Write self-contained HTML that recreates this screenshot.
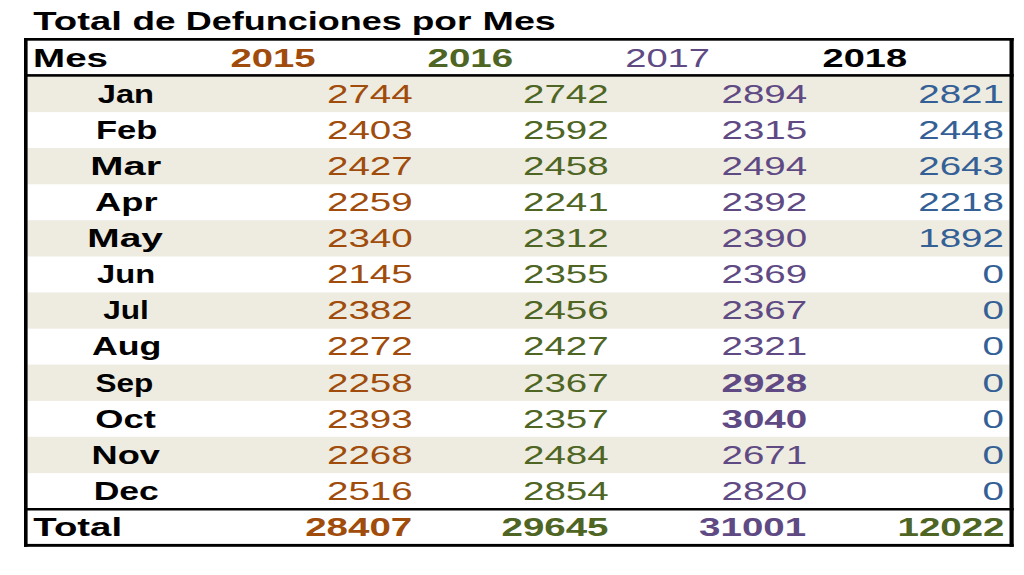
<!DOCTYPE html>
<html><head><meta charset="utf-8"><title>Total de Defunciones por Mes</title>
<style>
html,body{margin:0;padding:0;background:#fff;}
body{width:1024px;height:575px;overflow:hidden;}
svg{display:block;}
text{font-family:"Liberation Sans",sans-serif;}
</style></head><body>
<svg width="1024" height="575" viewBox="0 0 1024 575">
<rect x="27.5" y="75.80" width="982" height="36.30" fill="#eeece1"/>
<rect x="27.5" y="148.00" width="982" height="36.30" fill="#eeece1"/>
<rect x="27.5" y="220.20" width="982" height="36.30" fill="#eeece1"/>
<rect x="27.5" y="292.40" width="982" height="36.30" fill="#eeece1"/>
<rect x="27.5" y="364.60" width="982" height="36.30" fill="#eeece1"/>
<rect x="27.5" y="436.80" width="982" height="36.30" fill="#eeece1"/>
<rect x="24.0" y="38.0" width="3.6" height="508.79999999999995" fill="#000"/>
<rect x="1009.5" y="38.0" width="4.2" height="508.79999999999995" fill="#000"/>
<rect x="24.0" y="38.0" width="989.7" height="2.7" fill="#000"/>
<rect x="24.0" y="543.9" width="989.7" height="2.9" fill="#000"/>
<rect x="24.0" y="74.1" width="989.7" height="2.6" fill="#000"/>
<rect x="24.0" y="508.0" width="989.7" height="2.5" fill="#000"/>
<text transform="matrix(1.5385 0 0 1 33.30 29.85)" font-size="24.9" font-weight="bold" fill="#000">Total</text>
<text transform="matrix(1.4841 0 0 1 132.40 29.85)" font-size="24.9" font-weight="bold" fill="#000">de</text>
<text transform="matrix(1.4456 0 0 1 185.75 29.85)" font-size="24.9" font-weight="bold" fill="#000">Defunciones</text>
<text transform="matrix(1.4869 0 0 1 411.69 29.85)" font-size="24.9" font-weight="bold" fill="#000">por</text>
<text transform="matrix(1.5129 0 0 1 482.55 29.85)" font-size="24.9" font-weight="bold" fill="#000">Mes</text>
<text transform="matrix(1.5478 0 0 1 33.09 66.90)" font-size="24.9" font-weight="bold" fill="#000">Mes</text>
<text transform="matrix(1.5353 0 0 1 230.41 66.90)" font-size="24.9" font-weight="bold" fill="#a04c0c">2015</text>
<text transform="matrix(1.5446 0 0 1 427.60 66.90)" font-size="24.9" font-weight="bold" fill="#4e6524">2016</text>
<text transform="matrix(1.5315 0 0 1 625.21 66.90)" font-size="24.9" fill="#604a84">2017</text>
<text transform="matrix(1.5252 0 0 1 822.56 66.90)" font-size="24.9" font-weight="bold" fill="#000">2018</text>
<text transform="matrix(1.3117 0 0 1 97.80 103.05)" font-size="24.9" font-weight="bold" fill="#000">Jan</text>
<text transform="matrix(1.5483 0 0 1 412.70 103.05)" font-size="24.9" text-anchor="end" fill="#a04c0c">2744</text>
<text transform="matrix(1.5483 0 0 1 608.70 103.05)" font-size="24.9" text-anchor="end" fill="#4e6524">2742</text>
<text transform="matrix(1.5483 0 0 1 807.20 103.05)" font-size="24.9" text-anchor="end" fill="#604a84">2894</text>
<text transform="matrix(1.5483 0 0 1 1004.00 103.05)" font-size="24.9" text-anchor="end" fill="#346096">2821</text>
<text transform="matrix(1.3867 0 0 1 95.94 139.11)" font-size="24.9" font-weight="bold" fill="#000">Feb</text>
<text transform="matrix(1.5483 0 0 1 412.70 139.11)" font-size="24.9" text-anchor="end" fill="#a04c0c">2403</text>
<text transform="matrix(1.5483 0 0 1 608.70 139.11)" font-size="24.9" text-anchor="end" fill="#4e6524">2592</text>
<text transform="matrix(1.5483 0 0 1 807.20 139.11)" font-size="24.9" text-anchor="end" fill="#604a84">2315</text>
<text transform="matrix(1.5483 0 0 1 1004.00 139.11)" font-size="24.9" text-anchor="end" fill="#346096">2448</text>
<text transform="matrix(1.6025 0 0 1 90.31 175.17)" font-size="24.9" font-weight="bold" fill="#000">Mar</text>
<text transform="matrix(1.5483 0 0 1 412.70 175.17)" font-size="24.9" text-anchor="end" fill="#a04c0c">2427</text>
<text transform="matrix(1.5483 0 0 1 608.70 175.17)" font-size="24.9" text-anchor="end" fill="#4e6524">2458</text>
<text transform="matrix(1.5483 0 0 1 807.20 175.17)" font-size="24.9" text-anchor="end" fill="#604a84">2494</text>
<text transform="matrix(1.5483 0 0 1 1004.00 175.17)" font-size="24.9" text-anchor="end" fill="#346096">2643</text>
<text transform="matrix(1.4570 0 0 1 95.03 211.23)" font-size="24.9" font-weight="bold" fill="#000">Apr</text>
<text transform="matrix(1.5483 0 0 1 412.70 211.23)" font-size="24.9" text-anchor="end" fill="#a04c0c">2259</text>
<text transform="matrix(1.5483 0 0 1 608.70 211.23)" font-size="24.9" text-anchor="end" fill="#4e6524">2241</text>
<text transform="matrix(1.5483 0 0 1 807.20 211.23)" font-size="24.9" text-anchor="end" fill="#604a84">2392</text>
<text transform="matrix(1.5483 0 0 1 1004.00 211.23)" font-size="24.9" text-anchor="end" fill="#346096">2218</text>
<text transform="matrix(1.5604 0 0 1 87.37 247.29)" font-size="24.9" font-weight="bold" fill="#000">May</text>
<text transform="matrix(1.5483 0 0 1 412.70 247.29)" font-size="24.9" text-anchor="end" fill="#a04c0c">2340</text>
<text transform="matrix(1.5483 0 0 1 608.70 247.29)" font-size="24.9" text-anchor="end" fill="#4e6524">2312</text>
<text transform="matrix(1.5483 0 0 1 807.20 247.29)" font-size="24.9" text-anchor="end" fill="#604a84">2390</text>
<text transform="matrix(1.5483 0 0 1 1004.00 247.29)" font-size="24.9" text-anchor="end" fill="#346096">1892</text>
<text transform="matrix(1.3120 0 0 1 97.10 283.35)" font-size="24.9" font-weight="bold" fill="#000">Jun</text>
<text transform="matrix(1.5483 0 0 1 412.70 283.35)" font-size="24.9" text-anchor="end" fill="#a04c0c">2145</text>
<text transform="matrix(1.5483 0 0 1 608.70 283.35)" font-size="24.9" text-anchor="end" fill="#4e6524">2355</text>
<text transform="matrix(1.5483 0 0 1 807.20 283.35)" font-size="24.9" text-anchor="end" fill="#604a84">2369</text>
<text transform="matrix(1.5483 0 0 1 1004.00 283.35)" font-size="24.9" text-anchor="end" fill="#346096">0</text>
<text transform="matrix(1.2694 0 0 1 103.20 319.41)" font-size="24.9" font-weight="bold" fill="#000">Jul</text>
<text transform="matrix(1.5483 0 0 1 412.70 319.41)" font-size="24.9" text-anchor="end" fill="#a04c0c">2382</text>
<text transform="matrix(1.5483 0 0 1 608.70 319.41)" font-size="24.9" text-anchor="end" fill="#4e6524">2456</text>
<text transform="matrix(1.5483 0 0 1 807.20 319.41)" font-size="24.9" text-anchor="end" fill="#604a84">2367</text>
<text transform="matrix(1.5483 0 0 1 1004.00 319.41)" font-size="24.9" text-anchor="end" fill="#346096">0</text>
<text transform="matrix(1.4347 0 0 1 91.94 355.47)" font-size="24.9" font-weight="bold" fill="#000">Aug</text>
<text transform="matrix(1.5483 0 0 1 412.70 355.47)" font-size="24.9" text-anchor="end" fill="#a04c0c">2272</text>
<text transform="matrix(1.5483 0 0 1 608.70 355.47)" font-size="24.9" text-anchor="end" fill="#4e6524">2427</text>
<text transform="matrix(1.5483 0 0 1 807.20 355.47)" font-size="24.9" text-anchor="end" fill="#604a84">2321</text>
<text transform="matrix(1.5483 0 0 1 1004.00 355.47)" font-size="24.9" text-anchor="end" fill="#346096">0</text>
<text transform="matrix(1.2662 0 0 1 95.51 391.53)" font-size="24.9" font-weight="bold" fill="#000">Sep</text>
<text transform="matrix(1.5483 0 0 1 412.70 391.53)" font-size="24.9" text-anchor="end" fill="#a04c0c">2258</text>
<text transform="matrix(1.5483 0 0 1 608.70 391.53)" font-size="24.9" text-anchor="end" fill="#4e6524">2367</text>
<text transform="matrix(1.5483 0 0 1 807.20 391.53)" font-size="24.9" font-weight="bold" text-anchor="end" fill="#604a84">2928</text>
<text transform="matrix(1.5483 0 0 1 1004.00 391.53)" font-size="24.9" text-anchor="end" fill="#346096">0</text>
<text transform="matrix(1.4578 0 0 1 95.37 427.59)" font-size="24.9" font-weight="bold" fill="#000">Oct</text>
<text transform="matrix(1.5483 0 0 1 412.70 427.59)" font-size="24.9" text-anchor="end" fill="#a04c0c">2393</text>
<text transform="matrix(1.5483 0 0 1 608.70 427.59)" font-size="24.9" text-anchor="end" fill="#4e6524">2357</text>
<text transform="matrix(1.5483 0 0 1 807.20 427.59)" font-size="24.9" font-weight="bold" text-anchor="end" fill="#604a84">3040</text>
<text transform="matrix(1.5483 0 0 1 1004.00 427.59)" font-size="24.9" text-anchor="end" fill="#346096">0</text>
<text transform="matrix(1.4526 0 0 1 91.54 463.65)" font-size="24.9" font-weight="bold" fill="#000">Nov</text>
<text transform="matrix(1.5483 0 0 1 412.70 463.65)" font-size="24.9" text-anchor="end" fill="#a04c0c">2268</text>
<text transform="matrix(1.5483 0 0 1 608.70 463.65)" font-size="24.9" text-anchor="end" fill="#4e6524">2484</text>
<text transform="matrix(1.5483 0 0 1 807.20 463.65)" font-size="24.9" text-anchor="end" fill="#604a84">2671</text>
<text transform="matrix(1.5483 0 0 1 1004.00 463.65)" font-size="24.9" text-anchor="end" fill="#346096">0</text>
<text transform="matrix(1.4275 0 0 1 93.68 499.71)" font-size="24.9" font-weight="bold" fill="#000">Dec</text>
<text transform="matrix(1.5483 0 0 1 412.70 499.71)" font-size="24.9" text-anchor="end" fill="#a04c0c">2516</text>
<text transform="matrix(1.5483 0 0 1 608.70 499.71)" font-size="24.9" text-anchor="end" fill="#4e6524">2854</text>
<text transform="matrix(1.5483 0 0 1 807.20 499.71)" font-size="24.9" text-anchor="end" fill="#604a84">2820</text>
<text transform="matrix(1.5483 0 0 1 1004.00 499.71)" font-size="24.9" text-anchor="end" fill="#346096">0</text>
<text transform="matrix(1.5403 0 0 1 33.30 535.80)" font-size="24.9" font-weight="bold" fill="#000">Total</text>
<text transform="matrix(1.5462 0 0 1 412.20 535.80)" font-size="24.9" font-weight="bold" text-anchor="end" fill="#a04c0c">28407</text>
<text transform="matrix(1.5462 0 0 1 608.50 535.80)" font-size="24.9" font-weight="bold" text-anchor="end" fill="#4e6524">29645</text>
<text transform="matrix(1.5462 0 0 1 806.10 535.80)" font-size="24.9" font-weight="bold" text-anchor="end" fill="#604a84">31001</text>
<text transform="matrix(1.5462 0 0 1 1004.50 535.80)" font-size="24.9" font-weight="bold" text-anchor="end" fill="#4e6524">12022</text>
</svg>
</body></html>
